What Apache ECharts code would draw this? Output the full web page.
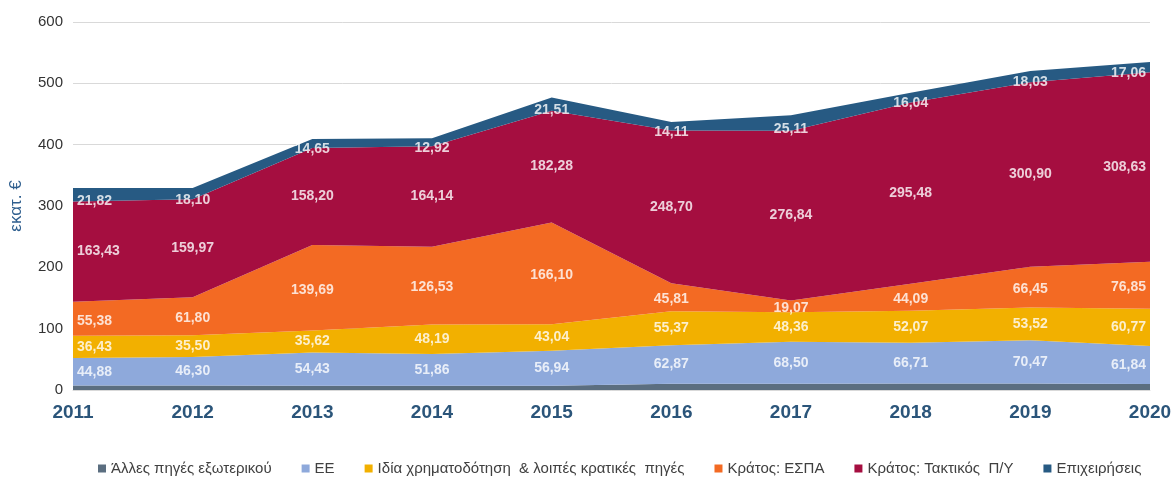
<!DOCTYPE html>
<html>
<head>
<meta charset="utf-8">
<script src="https://cdn.jsdelivr.net/npm/echarts@6/dist/echarts.min.js"></script>
<style>
html,body{margin:0;padding:0;background:#fff;}
#chart{width:1175px;height:477px;}
</style>
</head>
<body>
<div id="chart"></div>
<script>
const years = ['2011','2012','2013','2014','2015','2016','2017','2018','2019','2020'];
const seriesNames = ['Άλλες πηγές εξωτερικού','ΕΕ','Ιδία χρηματοδότηση  & λοιπές κρατικές  πηγές','Κράτος: ΕΣΠΑ','Κράτος: Τακτικός  Π/Υ','Επιχειρήσεις'];
const otherExternal = [7.3, 7.5, 6.8, 6.9, 7.1, 10.2, 10.0, 10.4, 10.6, 9.8];
const eu = [44.88, 46.30, 54.43, 51.86, 56.94, 62.87, 68.50, 66.71, 70.47, 61.84];
const ownFunding = [36.43, 35.50, 35.62, 48.19, 43.04, 55.37, 48.36, 52.07, 53.52, 60.77];
const stateEspa = [55.38, 61.80, 139.69, 126.53, 166.10, 45.81, 19.07, 44.09, 66.45, 76.85];
const stateBudget = [163.43, 159.97, 158.20, 164.14, 182.28, 248.70, 276.84, 295.48, 300.90, 308.63];
const business = [21.82, 18.10, 14.65, 12.92, 21.51, 14.11, 25.11, 16.04, 18.03, 17.06];
const yTicks = [0, 100, 200, 300, 400, 500, 600];

const colors = ['#5B6E80','#8EA9DB','#F2B000','#F36A23','#A50E40','#275A83'];
const allData = [otherExternal, eu, ownFunding, stateEspa, stateBudget, business];
const labelled = [false, true, true, true, true, true];
const labelShiftY = [0, 0, 0, 2, 0, 6];

const series = [];
allData.forEach((d, i) => {
  series.push({
    name: seriesNames[i], type: 'line', stack: 'total', data: d,
    symbol: 'none', lineStyle: {width: 0}, areaStyle: {color: colors[i], opacity: 1},
    itemStyle: {color: colors[i]}, emphasis: {disabled: true}, z: 2
  });
});
// label positions: middle of each stacked band, derived from the data
const base = years.map(() => 0);
allData.forEach((d, i) => {
  const mids = d.map((v, j) => base[j] + v / 2);
  d.forEach((v, j) => { base[j] += v; });
  if (!labelled[i]) return;
  series.push({
    name: 'lbl' + i, type: 'scatter', silent: true, symbolSize: 0, z: 5,
    itemStyle: {color: colors[i]},
    data: mids.map((m, j) => {
      const item = {value: m};
      if (j === 0) item.label = {align: 'left', offset: [4, labelShiftY[i]]};
      if (j === years.length - 1) item.label = {align: 'right', offset: [-4, labelShiftY[i]]};
      return item;
    }),
    label: {
      show: true, position: 'inside', color: '#ffffff', fontWeight: 'bold', fontSize: 14,
      offset: [0, labelShiftY[i]],
      textBorderWidth: 0, textBorderColor: 'transparent',
      fontFamily: 'Liberation Sans, Arial, sans-serif',
      formatter: p => d[p.dataIndex].toFixed(2).replace('.', ',')
    }
  });
});

const chart = echarts.init(document.getElementById('chart'));
chart.setOption({
  animation: false,
  textStyle: {fontFamily: 'Liberation Sans, Arial, sans-serif'},
  grid: {left: 68, right: 25, top: 22, bottom: 87, containLabel: false},
  legend: {
    data: seriesNames.map((n, i) => ({name: n, itemStyle: {color: colors[i]}})),
    top: 456, left: 93, icon: 'rect', itemWidth: 8, itemHeight: 8, itemGap: 30,
    textStyle: {fontSize: 15, color: '#404040', fontFamily: 'Liberation Sans, Arial, sans-serif'}
  },
  xAxis: {
    type: 'category', data: years, boundaryGap: false,
    axisLine: {show: true, lineStyle: {color: '#D9D9D9', width: 1}},
    axisTick: {show: false},
    axisLabel: {fontSize: 19, fontWeight: 'bold', color: '#2B557A', margin: 13, interval: 0}
  },
  yAxis: {
    type: 'value', min: 0, max: 600, interval: 100,
    name: 'εκατ. €', nameLocation: 'middle', nameGap: 48, nameRotate: 90,
    nameTextStyle: {fontSize: 17, color: '#2E5E8E'},
    axisLine: {show: false}, axisTick: {show: false},
    axisLabel: {fontSize: 15, color: '#333', margin: 10, formatter: v => yTicks.includes(v) ? String(v) : ''},
    splitLine: {lineStyle: {color: '#D9D9D9', width: 1}}
  },
  series: series
});
</script>
</body>
</html>
